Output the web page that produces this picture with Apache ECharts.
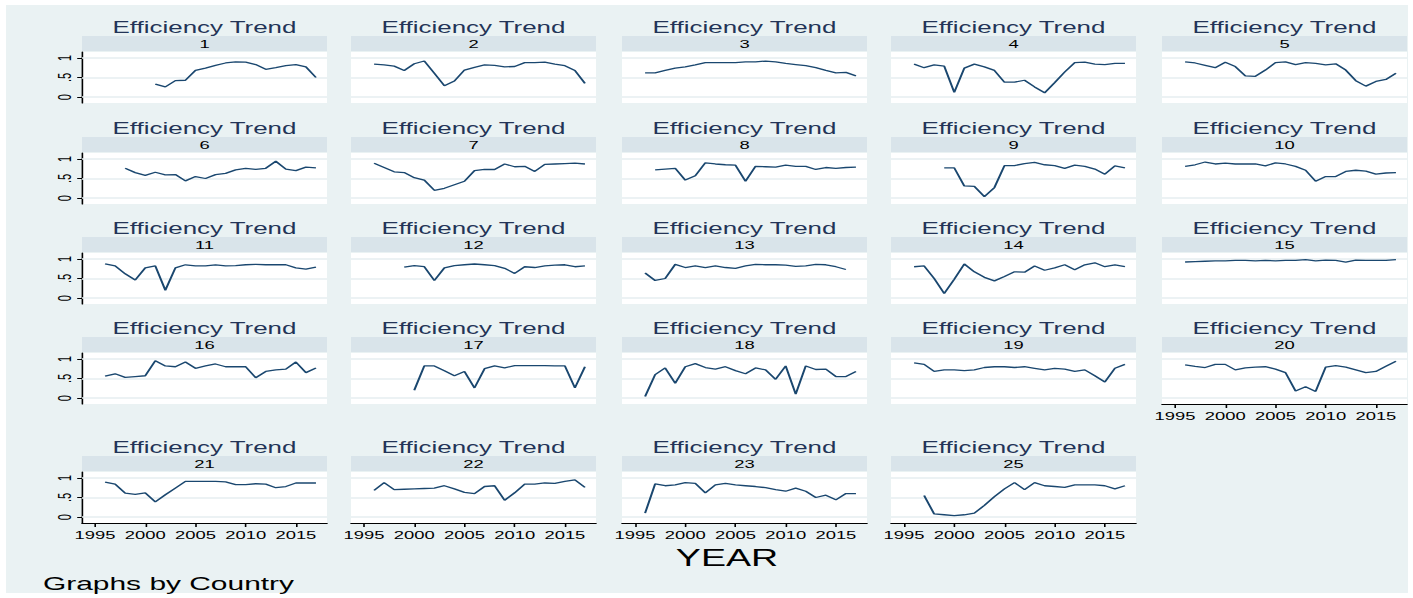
<!DOCTYPE html>
<html>
<head>
<meta charset="utf-8">
<script src="https://cdn.jsdelivr.net/npm/echarts@6/dist/echarts.min.js"></script>
<style>
  html, body { margin: 0; padding: 0; background: #fff; }
  #bg { position: absolute; left: 6px; top: 5px; width: 1402px; height: 588px; background: #eaf2f3; }
  #chart { position: absolute; left: 0; top: 0; height: 598px; transform-origin: 0 0; }
</style>
</head>
<body>
<div id="bg"></div>
<div id="chart"></div>
<script>
// the original export is stretched sideways, so draw narrow and scale x
var STRETCH = 1.6;

var years = [1996, 1997, 1998, 1999, 2000, 2001, 2002, 2003, 2004, 2005, 2006,
             2007, 2008, 2009, 2010, 2011, 2012, 2013, 2014, 2015, 2016, 2017];
var yearTicks = [1995, 2000, 2005, 2010, 2015];
var effTicks = [0, 0.5, 1];

var countries = ['1', '2', '3', '4', '5', '6', '7', '8', '9', '10', '11', '12',
                 '13', '14', '15', '16', '17', '18', '19', '20', '21', '22', '23', '25'];

var eff1 = [null, null, null, null, null, 0.33, 0.26, 0.42, 0.43, 0.68, 0.74, 0.81, 0.87, 0.9, 0.89, 0.83, 0.71, 0.75, 0.8, 0.83, 0.77, 0.5];
var eff2 = [0.84, 0.82, 0.79, 0.68, 0.85, 0.92, 0.61, 0.29, 0.41, 0.69, 0.76, 0.82, 0.81, 0.77, 0.78, 0.88, 0.88, 0.89, 0.84, 0.8, 0.68, 0.35];
var eff3 = [0.62, 0.62, 0.68, 0.74, 0.77, 0.82, 0.88, 0.88, 0.88, 0.88, 0.9, 0.9, 0.92, 0.9, 0.86, 0.83, 0.8, 0.75, 0.68, 0.62, 0.63, 0.54];
var eff4 = [0.84, 0.75, 0.82, 0.79, 0.12, 0.74, 0.84, 0.77, 0.68, 0.38, 0.38, 0.43, 0.26, 0.11, 0.37, 0.64, 0.88, 0.89, 0.84, 0.83, 0.86, 0.86];
var eff5 = [0.9, 0.87, 0.81, 0.75, 0.89, 0.78, 0.54, 0.53, 0.69, 0.88, 0.9, 0.83, 0.88, 0.86, 0.82, 0.85, 0.69, 0.42, 0.28, 0.4, 0.45, 0.61];
var eff6 = [null, null, 0.76, 0.65, 0.58, 0.66, 0.59, 0.6, 0.44, 0.55, 0.5, 0.6, 0.63, 0.72, 0.76, 0.73, 0.76, 0.94, 0.74, 0.7, 0.79, 0.77];
var eff7 = [0.89, 0.78, 0.67, 0.65, 0.52, 0.46, 0.2, 0.25, 0.34, 0.43, 0.7, 0.73, 0.73, 0.87, 0.8, 0.81, 0.68, 0.86, 0.87, 0.88, 0.89, 0.87];
var eff8 = [null, 0.72, 0.74, 0.76, 0.46, 0.57, 0.9, 0.87, 0.85, 0.84, 0.43, 0.81, 0.8, 0.79, 0.84, 0.81, 0.81, 0.73, 0.78, 0.76, 0.78, 0.79];
var eff9 = [null, null, null, 0.77, 0.77, 0.31, 0.3, 0.04, 0.27, 0.83, 0.83, 0.88, 0.91, 0.85, 0.83, 0.76, 0.84, 0.81, 0.74, 0.61, 0.82, 0.77];
var eff10 = [0.81, 0.85, 0.92, 0.87, 0.89, 0.87, 0.87, 0.87, 0.82, 0.9, 0.87, 0.81, 0.71, 0.43, 0.55, 0.55, 0.68, 0.71, 0.69, 0.61, 0.64, 0.65];
var eff11 = [0.87, 0.82, 0.62, 0.46, 0.77, 0.82, 0.2, 0.77, 0.85, 0.82, 0.82, 0.85, 0.82, 0.83, 0.85, 0.86, 0.85, 0.85, 0.85, 0.77, 0.74, 0.79];
var eff12 = [null, null, null, 0.79, 0.83, 0.8, 0.45, 0.77, 0.83, 0.85, 0.87, 0.85, 0.83, 0.76, 0.63, 0.8, 0.78, 0.82, 0.84, 0.85, 0.8, 0.82];
var eff13 = [0.64, 0.45, 0.5, 0.86, 0.78, 0.82, 0.78, 0.82, 0.78, 0.76, 0.82, 0.86, 0.85, 0.85, 0.84, 0.81, 0.82, 0.86, 0.85, 0.8, 0.73, null];
var eff14 = [0.8, 0.82, 0.5, 0.12, 0.48, 0.87, 0.67, 0.53, 0.44, 0.55, 0.67, 0.66, 0.82, 0.71, 0.77, 0.85, 0.72, 0.85, 0.9, 0.8, 0.85, 0.8];
var eff15 = [0.92, 0.93, 0.94, 0.95, 0.95, 0.96, 0.96, 0.95, 0.96, 0.95, 0.96, 0.96, 0.98, 0.95, 0.97, 0.96, 0.92, 0.97, 0.96, 0.96, 0.96, 0.98];
var eff16 = [0.56, 0.62, 0.53, 0.55, 0.57, 0.95, 0.82, 0.8, 0.92, 0.76, 0.82, 0.87, 0.8, 0.8, 0.8, 0.52, 0.68, 0.72, 0.74, 0.92, 0.65, 0.77];
var eff17 = [null, null, null, null, 0.2, 0.82, 0.82, 0.7, 0.57, 0.68, 0.26, 0.75, 0.82, 0.77, 0.83, 0.83, 0.83, 0.83, 0.82, 0.82, 0.26, 0.8];
var eff18 = [0.04, 0.6, 0.77, 0.38, 0.8, 0.88, 0.78, 0.74, 0.8, 0.7, 0.62, 0.77, 0.72, 0.48, 0.82, 0.1, 0.82, 0.73, 0.74, 0.55, 0.55, 0.68];
var eff19 = [0.9, 0.86, 0.68, 0.72, 0.72, 0.7, 0.72, 0.78, 0.8, 0.8, 0.78, 0.8, 0.76, 0.72, 0.76, 0.74, 0.68, 0.72, 0.57, 0.41, 0.76, 0.86];
var eff20 = [0.85, 0.81, 0.78, 0.86, 0.86, 0.72, 0.77, 0.79, 0.8, 0.74, 0.65, 0.18, 0.29, 0.17, 0.79, 0.83, 0.79, 0.72, 0.65, 0.68, 0.81, 0.94];
var eff21 = [0.89, 0.84, 0.61, 0.58, 0.62, 0.39, 0.57, 0.74, 0.91, 0.91, 0.91, 0.91, 0.9, 0.83, 0.83, 0.85, 0.84, 0.75, 0.78, 0.87, 0.87, 0.87];
var eff22 = [0.68, 0.88, 0.7, 0.71, 0.72, 0.73, 0.74, 0.8, 0.72, 0.63, 0.6, 0.78, 0.8, 0.43, 0.62, 0.84, 0.84, 0.87, 0.86, 0.91, 0.95, 0.76];
var eff23 = [0.1, 0.85, 0.8, 0.82, 0.88, 0.86, 0.62, 0.82, 0.86, 0.82, 0.8, 0.78, 0.75, 0.7, 0.66, 0.74, 0.66, 0.5, 0.56, 0.44, 0.6, 0.6];
var eff25 = [null, 0.55, 0.08, 0.06, 0.04, 0.06, 0.1, 0.3, 0.52, 0.72, 0.88, 0.7, 0.88, 0.8, 0.78, 0.76, 0.82, 0.82, 0.82, 0.8, 0.72, 0.8];

var efficiency = [eff1, eff2, eff3, eff4, eff5, eff6, eff7, eff8, eff9, eff10, eff11, eff12,
                  eff13, eff14, eff15, eff16, eff17, eff18, eff19, eff20, eff21, eff22, eff23, eff25];

// layout in final (stretched) pixels
var colX = [82, 351, 622, 891, 1162];
var rowY = [52, 153, 253, 353, 472];
var plotW = 245, plotH = 51;
var FONT = '"Liberation Sans", Arial, sans-serif';
var lineColor = '#1a476f';

var el = document.getElementById('chart');
el.style.width = (1413 / STRETCH) + 'px';
el.style.transform = 'scaleX(' + STRETCH + ')';

var chart = echarts.init(el, null, { renderer: 'svg' });

var grids = [], xAxes = [], yAxes = [], series = [], graphics = [];

countries.forEach(function (name, i) {
  var row = Math.floor(i / 5), col = i % 5;
  var showX = row === 4 || (row === 3 && col === 4);
  var showY = col === 0;
  var left = colX[col] / STRETCH;
  var w = plotW / STRETCH;
  var top = rowY[row];

  grids.push({
    left: left, top: top, width: w, height: plotH,
    show: true, backgroundColor: '#fff', borderWidth: 0
  });

  xAxes.push({
    gridIndex: i, type: 'value', min: 1993.7, max: 2018.1,
    axisLine: { show: showX, onZero: false, lineStyle: { color: '#000', width: 1 } },
    axisTick: { show: showX, customValues: yearTicks, length: 4, lineStyle: { color: '#000' } },
    axisLabel: {
      show: showX, customValues: yearTicks, color: '#000', fontSize: 11.5, fontFamily: FONT, margin: 6,
      formatter: function (v) { return String(v); }
    },
    splitLine: { show: false }
  });

  yAxes.push({
    gridIndex: i, type: 'value', min: -0.15, max: 1.15,
    axisLine: { show: showY, onZero: false, lineStyle: { color: '#000', width: 1 } },
    axisTick: { show: showY, customValues: effTicks, length: 3, lineStyle: { color: '#000' } },
    axisLabel: {
      show: showY, customValues: effTicks, rotate: 90, color: '#000',
      fontSize: 11, fontFamily: FONT, margin: 5,
      formatter: function (v) { return v === 0.5 ? '.5' : String(v); }
    },
    splitLine: { show: false }
  });

  var pts = [];
  years.forEach(function (yr, k) {
    if (efficiency[i][k] != null) pts.push([yr, efficiency[i][k]]);
  });

  series.push({
    type: 'line', name: name, xAxisIndex: i, yAxisIndex: i,
    data: pts, symbol: 'none', showSymbol: false,
    lineStyle: { color: lineColor, width: 1.3 },
    markLine: {
      silent: true, symbol: 'none', z: 1, animation: false,
      label: { show: false },
      lineStyle: { color: '#e6eef0', width: 1.5, type: 'solid' },
      data: effTicks.map(function (v) { return { yAxis: v }; })
    }
  });

  // strip with the country number
  graphics.push({
    type: 'rect', shape: { x: left, y: top - 16, width: w, height: 15 },
    style: { fill: '#d9e4ea' }, silent: true
  });
  graphics.push({
    type: 'text', x: left + w / 2, y: top - 8.5, silent: true,
    style: { text: name, align: 'center', verticalAlign: 'middle', fontSize: 11.5, fontFamily: FONT, fill: '#000' }
  });
  // panel title
  graphics.push({
    type: 'text', x: left + w / 2, y: top - 25, silent: true,
    style: { text: 'Efficiency Trend', align: 'center', verticalAlign: 'middle', fontSize: 16.2, fontFamily: FONT, fill: '#233457' }
  });
});

graphics.push({
  type: 'text', x: 727 / STRETCH, y: 558, silent: true,
  style: { text: 'YEAR', align: 'center', verticalAlign: 'middle', fontSize: 23.5, fontFamily: FONT, fill: '#000' }
});
graphics.push({
  type: 'text', x: 43 / STRETCH, y: 583, silent: true,
  style: { text: 'Graphs by Country', align: 'left', verticalAlign: 'middle', fontSize: 18.7, fontFamily: FONT, fill: '#000' }
});

chart.setOption({
  animation: false,
  backgroundColor: 'transparent',
  grid: grids,
  xAxis: xAxes,
  yAxis: yAxes,
  series: series,
  graphic: { elements: graphics }
});
</script>
</body>
</html>
